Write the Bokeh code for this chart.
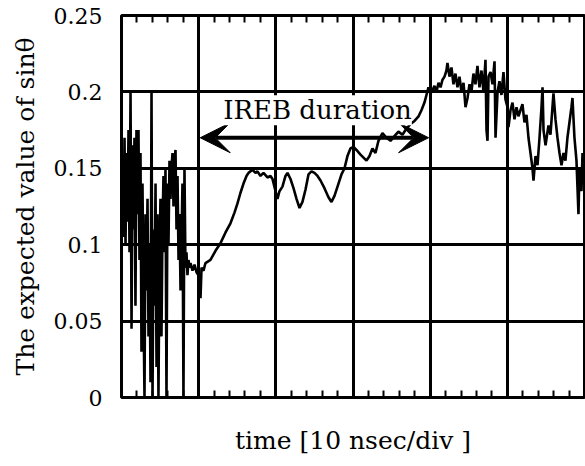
from bokeh.plotting import figure
from bokeh.models import FixedTicker, LinearAxis, Range1d, Arrow, VeeHead, Label
from bokeh.embed import file_html
from bokeh.resources import INLINE

# time in ns (10 ns per division), expected value of sin(theta)
time_ns = [
    0.00, 0.13, 0.26, 0.39, 0.52, 0.65, 0.78, 0.91, 1.04, 1.17, 1.30, 1.43, 1.55, 1.68, 1.81, 1.94,
    2.07, 2.20, 2.33, 2.46, 2.59, 2.72, 2.85, 2.98, 3.11, 3.24, 3.37, 3.50, 3.63, 3.76, 3.89, 4.02,
    4.15, 4.28, 4.41, 4.54, 4.66, 4.79, 4.92, 5.05, 5.18, 5.31, 5.44, 5.57, 5.70, 5.83, 5.96, 6.09,
    6.22, 6.35, 6.48, 6.61, 6.74, 6.87, 7.00, 7.13, 7.26, 7.39, 7.52, 7.65, 7.77, 7.90, 8.03, 8.16,
    8.29, 8.42, 8.55, 8.68, 8.81, 8.94, 9.20, 9.46, 9.72, 9.98, 10.24, 10.37, 10.63, 10.88,
    11.53, 12.18, 12.83, 13.48, 14.12, 14.64, 15.03, 15.42, 15.81, 16.20, 16.46, 16.97, 17.36, 17.62,
    18.01, 18.40, 18.92, 19.31, 19.57, 19.96, 20.21, 20.47, 20.86, 21.25, 21.51, 21.90, 22.29, 22.68,
    23.07, 23.45, 23.84, 24.23, 24.62, 25.01, 25.40, 25.79, 26.30, 26.82, 27.21, 27.60, 28.12, 28.51,
    28.90, 29.28, 29.67, 30.06, 30.45, 30.97, 31.36, 31.75, 32.14, 32.52, 32.91, 33.30, 33.82, 34.34,
    34.86, 35.37, 35.89, 36.41, 36.93, 37.45, 37.97, 38.49, 38.87, 39.26, 39.52, 39.78, 40.04, 40.30,
    40.56, 40.82, 41.08, 41.34, 41.60, 41.86, 42.11, 42.24, 42.50, 42.76, 43.02, 43.28, 43.54, 43.80,
    44.06, 44.32, 44.58, 44.84, 45.10, 45.35, 45.61, 45.87, 46.13, 46.39, 46.65, 46.91, 47.17, 47.30,
    47.43, 47.56, 47.82, 48.08, 48.34, 48.47, 48.73, 48.98, 49.24, 49.50, 49.76, 50.02, 50.15, 50.41,
    50.67, 50.93, 51.19, 51.44, 51.70, 51.96, 52.22, 52.48, 52.74, 53.00, 53.26, 53.39, 53.65, 53.91,
    54.17, 54.43, 54.56, 54.69, 54.95, 55.33, 55.59, 55.85, 55.98, 56.24, 56.50, 56.76, 57.02, 57.28,
    57.53, 57.79, 58.05, 58.31, 58.44, 58.70, 58.96, 59.22, 59.35, 59.61, 59.74, 59.87,
]
sin_theta = [
    0.095, 0.150, 0.105, 0.170, 0.100, 0.160, 0.115, 0.175, 0.095, 0.200, 0.045, 0.165, 0.110, 0.170, 0.060, 0.175,
    0.120, 0.175, 0.090, 0.160, 0.030, 0.140, 0.060, 0.000, 0.120, 0.070, 0.130, 0.040, 0.100, 0.010, 0.200, 0.000,
    0.110, 0.060, 0.140, 0.020, 0.120, 0.000, 0.090, 0.130, 0.040, 0.110, 0.145, 0.095, 0.150, 0.000, 0.140, 0.100,
    0.155, 0.130, 0.150, 0.160, 0.125, 0.155, 0.162, 0.110, 0.145, 0.090, 0.120, 0.070, 0.100, 0.140, 0.000, 0.150,
    0.085, 0.095, 0.080, 0.090, 0.085, 0.088, 0.083, 0.087, 0.082, 0.080, 0.065, 0.085, 0.083, 0.088,
    0.090, 0.096, 0.101, 0.108, 0.114, 0.121, 0.127, 0.134, 0.140, 0.145, 0.147, 0.149, 0.147, 0.148,
    0.145, 0.147, 0.144, 0.145, 0.143, 0.135, 0.130, 0.135, 0.138, 0.145, 0.147, 0.143, 0.137, 0.130,
    0.124, 0.128, 0.136, 0.146, 0.148, 0.147, 0.145, 0.142, 0.137, 0.131, 0.128, 0.132, 0.140, 0.146,
    0.150, 0.158, 0.163, 0.164, 0.162, 0.159, 0.157, 0.155, 0.158, 0.163, 0.160, 0.168, 0.173, 0.170,
    0.168, 0.171, 0.174, 0.172, 0.176, 0.179, 0.181, 0.184, 0.188, 0.193, 0.198, 0.203, 0.199, 0.201,
    0.204, 0.200, 0.206, 0.203, 0.208, 0.210, 0.214, 0.219, 0.210, 0.216, 0.205, 0.212, 0.203, 0.210,
    0.200, 0.206, 0.190, 0.196, 0.205, 0.200, 0.212, 0.205, 0.217, 0.203, 0.214, 0.200, 0.221, 0.175,
    0.168, 0.210, 0.213, 0.205, 0.220, 0.170, 0.200, 0.207, 0.198, 0.213, 0.195, 0.190, 0.177, 0.188,
    0.193, 0.182, 0.190, 0.184, 0.188, 0.192, 0.180, 0.185, 0.170, 0.160, 0.150, 0.142, 0.158, 0.152,
    0.170, 0.190, 0.203, 0.175, 0.165, 0.178, 0.172, 0.190, 0.199, 0.182, 0.170, 0.160, 0.152, 0.160,
    0.155, 0.170, 0.180, 0.190, 0.196, 0.170, 0.155, 0.120, 0.150, 0.135, 0.160, 0.145,
]

x_major = [0, 10, 20, 30, 40, 50, 60]
x_minor = [2, 4, 6, 8, 12, 14, 16, 18, 22, 24, 26, 28, 32, 34, 36, 38, 42, 44, 46, 48, 52, 54, 56, 58]
y_ticks = [0, 0.05, 0.1, 0.15, 0.2, 0.25]
y_tick_labels = ["0", "0.05", "0.1", "0.15", "0.2", "0.25"]

SERIF = "DejaVu Serif"

p = figure(width=585, height=466, output_backend="svg", toolbar_location=None,
           x_range=Range1d(0, 60), y_range=Range1d(0, 0.25),
           min_border_left=121, min_border_right=1, min_border_top=15, min_border_bottom=69,
           x_axis_location=None, y_axis_location=None)
p.background_fill_color = "white"
p.border_fill_color = "white"
p.outline_line_color = "black"
p.outline_line_width = 3

p.line(time_ns, sin_theta, line_color="black", line_width=2.6)


def minor_only_axis():
    ax = LinearAxis(ticker=FixedTicker(ticks=[], minor_ticks=x_minor))
    ax.axis_line_color = None
    ax.major_tick_in = 0
    ax.major_tick_out = 0
    ax.minor_tick_in = 7
    ax.minor_tick_out = 0
    ax.minor_tick_line_width = 2
    ax.minor_tick_line_color = "black"
    ax.major_label_standoff = 0
    return ax


xb = minor_only_axis()
xb.axis_label = "time [10 nsec/div ]"
xb.axis_label_text_font = SERIF
xb.axis_label_text_font_size = "25px"
xb.axis_label_text_font_style = "normal"
xb.axis_label_text_color = "black"
xb.axis_label_standoff = 28
p.add_layout(xb, "below")

xt = minor_only_axis()
p.add_layout(xt, "above")

yl = LinearAxis(ticker=FixedTicker(ticks=y_ticks, minor_ticks=[]))
yl.axis_line_color = None
yl.major_tick_in = 0
yl.major_tick_out = 0
yl.major_label_overrides = {t: s for t, s in zip(y_ticks, y_tick_labels)}
yl.major_label_text_font = SERIF
yl.major_label_text_font_size = "22px"
yl.major_label_text_color = "black"
yl.major_label_standoff = 19
yl.axis_label = "The expected value of sinθ"
yl.axis_label_text_font = SERIF
yl.axis_label_text_font_size = "25px"
yl.axis_label_text_font_style = "normal"
yl.axis_label_text_color = "black"
yl.axis_label_standoff = 11
p.add_layout(yl, "left")

p.xgrid.ticker = FixedTicker(ticks=x_major)
p.ygrid.ticker = FixedTicker(ticks=y_ticks)
for g in (p.xgrid, p.ygrid):
    g.grid_line_color = "black"
    g.grid_line_width = 3

p.add_layout(Arrow(start=VeeHead(size=30, fill_color="black", line_color="black"),
                   end=VeeHead(size=30, fill_color="black", line_color="black"),
                   x_start=10.2, y_start=0.170, x_end=39.8, y_end=0.170,
                   line_color="black", line_width=4))
p.add_layout(Label(x=25.4, y=0.188, text="IREB duration", text_align="center",
                   text_baseline="middle", text_font=SERIF, text_font_size="26px",
                   text_color="black", background_fill_color="white"))

open("out.html", "w").write(file_html(p, INLINE))
